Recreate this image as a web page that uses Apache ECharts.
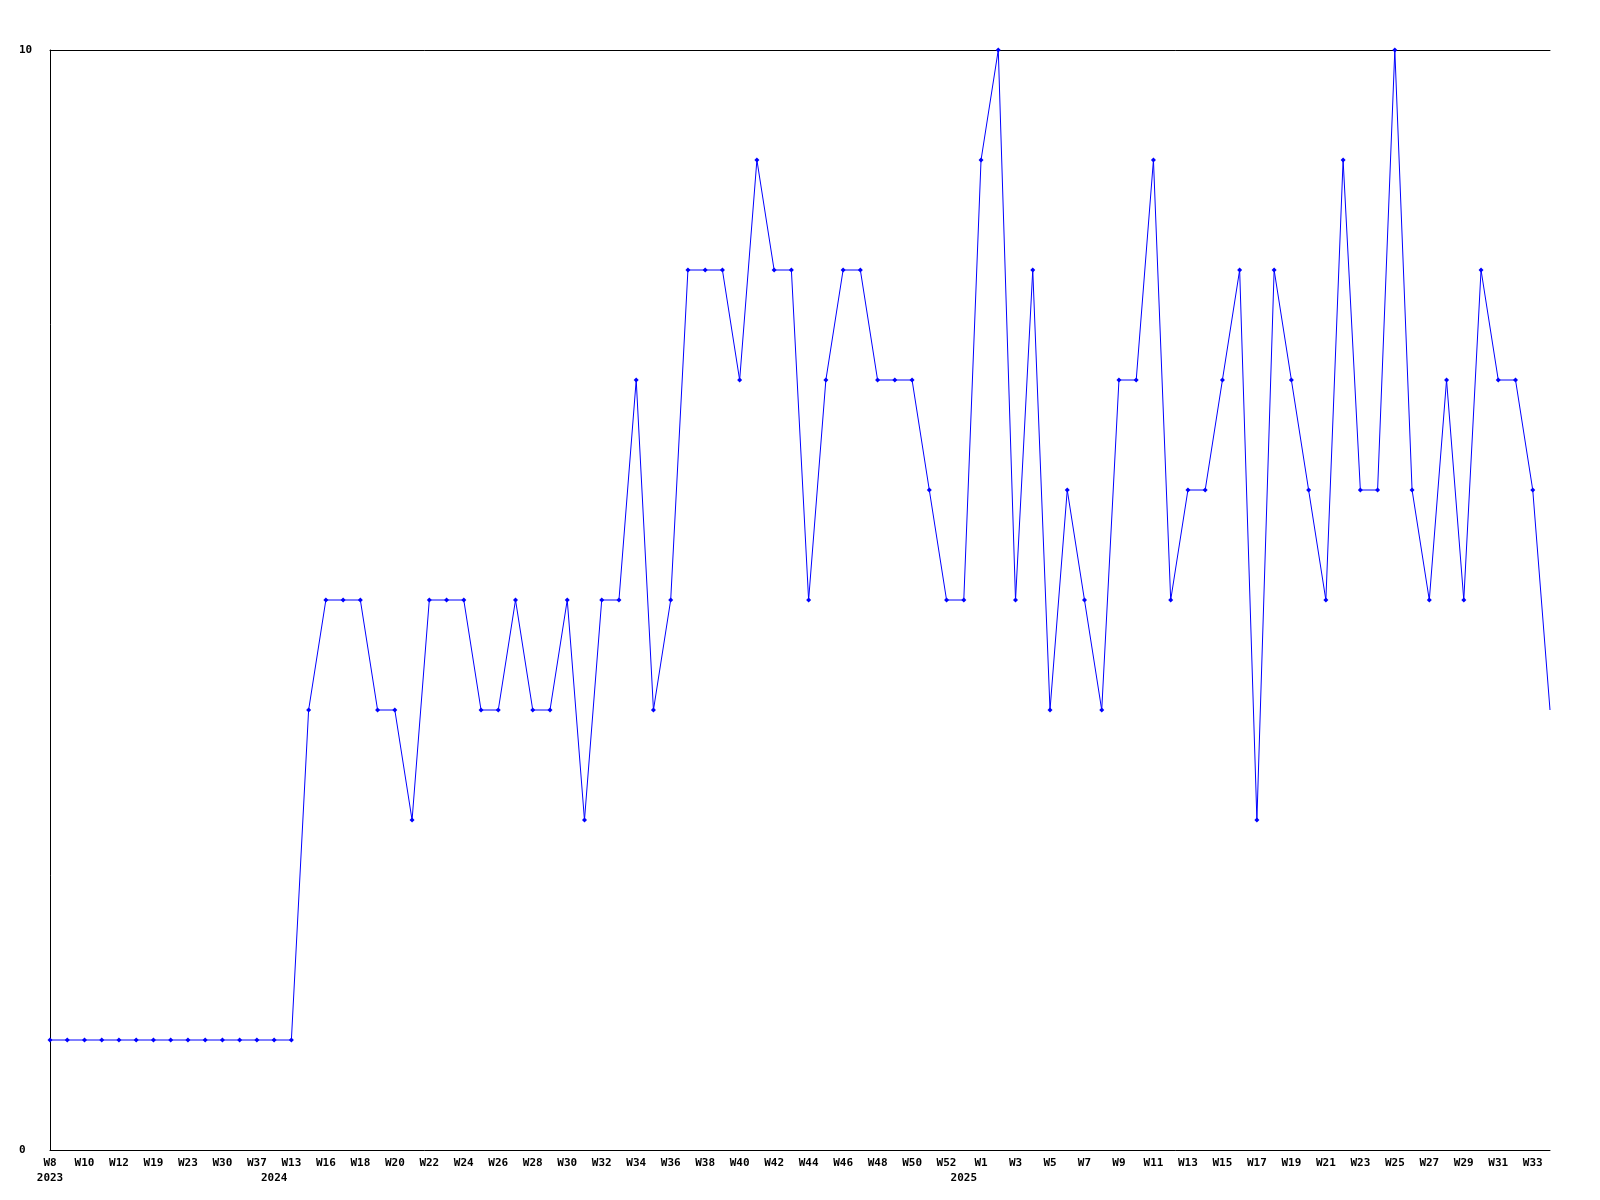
<!DOCTYPE html>
<html>
<head>
<meta charset="utf-8">
<script src="https://cdn.jsdelivr.net/npm/echarts@6/dist/echarts.min.js"></script>
<style>
html,body{margin:0;padding:0;background:#fff;}
#chart{width:1600px;height:1200px;}
</style>
</head>
<body>
<div id="chart"></div>
<script>
// Week categories (every other one is labelled)
const weeks = [
  'W8','W9','W10','W11','W12','W15','W19','W21','W23','W27','W30','W33','W37','W11',
  'W13','W15','W16','W17','W18','W19','W20','W21','W22','W23','W24','W25','W26','W27','W28','W29',
  'W30','W31','W32','W33','W34','W35','W36','W37','W38','W39','W40','W41','W42','W43','W44','W45',
  'W46','W47','W48','W49','W50','W51','W52','W0',
  'W1','W2','W3','W4','W5','W6','W7','W8','W9','W10','W11','W12','W13','W14','W15','W16','W17',
  'W18','W19','W20','W21','W22','W23','W24','W25','W26','W27','W28','W29','W30','W31','W32','W33','W34'
];
// Year for each category
const years = [
  2023,2023,2023,2023,2023,2023,2023,2023,2023,2023,2023,2023,2023,
  2024,2024,2024,2024,2024,2024,2024,2024,2024,2024,2024,2024,2024,2024,2024,2024,2024,
  2024,2024,2024,2024,2024,2024,2024,2024,2024,2024,2024,2024,2024,2024,2024,2024,
  2024,2024,2024,2024,2024,2024,2024,
  2025,2025,2025,2025,2025,2025,2025,2025,2025,2025,2025,2025,2025,2025,2025,2025,2025,2025,
  2025,2025,2025,2025,2025,2025,2025,2025,2025,2025,2025,2025,2025,2025,2025,2025,2025
];
const values = [
  1,1,1,1,1,1,1,1,1,1,1,1,1,1,1,
  4,5,5,5,4,4,3,5,5,5,4,4,5,4,4,
  5,3,5,5,7,4,5,8,8,8,7,9,8,8,5,
  7,8,8,7,7,7,6,5,5,9,10,5,8,4,6,
  5,4,7,7,9,5,6,6,7,8,3,8,7,6,5,
  9,6,6,10,6,5,7,5,8,7,7,6,4
];
const yTicks = [0, 10];

const font = '"DejaVu Sans Mono", "Liberation Mono", monospace';
const chart = echarts.init(document.getElementById('chart'));
const last = values.length - 1;
chart.setOption({
  animation: false,
  backgroundColor: '#fff',
  grid: {left: 50, right: 50, top: 50, bottom: 50},
  xAxis: [
    {
      type: 'category', data: weeks, boundaryGap: false, position: 'bottom',
      axisLine: {show: true, lineStyle: {color: '#000', width: 1}},
      axisTick: {show: false}, splitLine: {show: false},
      axisLabel: {interval: 1, margin: 8, color: '#000', fontFamily: font, fontWeight: 'bold', fontSize: 11}
    },
    {
      type: 'category', data: weeks, boundaryGap: false, position: 'bottom',
      axisLine: {show: false}, axisTick: {show: false}, splitLine: {show: false},
      axisLabel: {
        interval: 0, margin: 23, color: '#000', fontFamily: font, fontWeight: 'bold', fontSize: 11,
        formatter: function (v, i) { return (i === 0 || years[i] !== years[i - 1]) ? String(years[i]) : ''; }
      }
    },
    {
      type: 'category', data: weeks, boundaryGap: false, position: 'top',
      axisLine: {show: true, lineStyle: {color: '#000', width: 1}},
      axisTick: {show: false}, axisLabel: {show: false}, splitLine: {show: false}
    }
  ],
  yAxis: {
    type: 'value', min: yTicks[0], max: yTicks[1], interval: yTicks[1] - yTicks[0],
    axisLine: {show: true, lineStyle: {color: '#000', width: 1}},
    axisTick: {show: false}, splitLine: {show: false},
    axisLabel: {align: 'left', margin: 31, color: '#000', fontFamily: font, fontWeight: 'bold', fontSize: 11}
  },
  series: [{
    type: 'line', xAxisIndex: 0,
    data: values.map((v, i) => i === last ? {value: v, symbol: 'none'} : v),
    symbol: 'diamond', symbolSize: 5, showSymbol: true,
    lineStyle: {color: '#0000ff', width: 1},
    itemStyle: {color: '#0000ff'}
  }]
});
</script>
</body>
</html>
